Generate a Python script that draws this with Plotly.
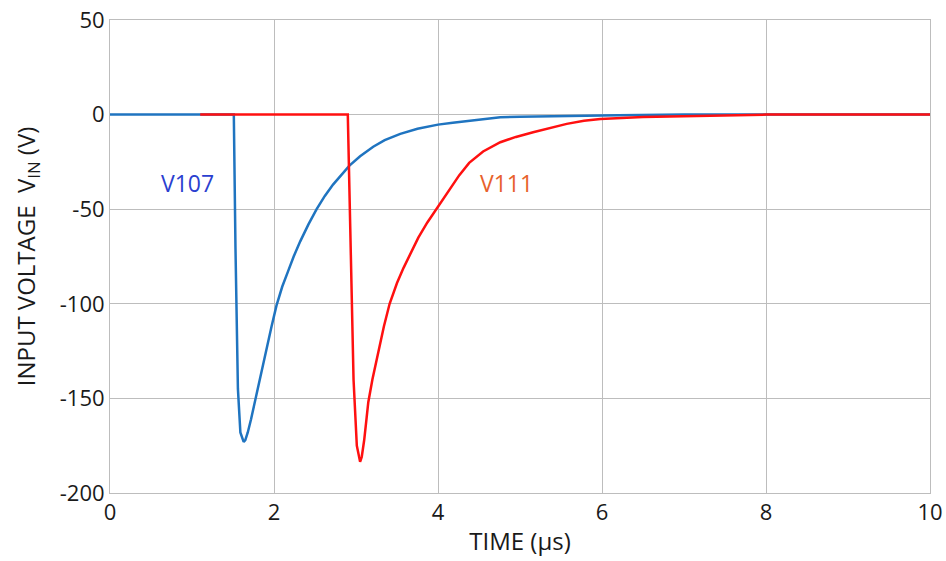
import plotly.graph_objects as go

# V107 trace (blue)
t_v107 = [0.0, 1.51, 1.53, 1.56, 1.59, 1.63, 1.65, 1.68, 1.72, 1.76, 1.80, 1.85, 1.91,
          1.97, 2.03, 2.10, 2.17, 2.24, 2.32, 2.42, 2.52, 2.62, 2.72, 2.82, 2.92, 3.05,
          3.21, 3.35, 3.54, 3.75, 4.00, 4.18, 4.35, 4.55, 4.76, 5.00, 5.25, 5.65, 6.20,
          7.00, 10.0]
v_v107 = [0.0, 0.0, -70, -145, -168, -173, -172, -168, -161, -153, -145, -135, -124,
          -112, -101, -91, -83, -75, -67, -58, -50, -43, -37, -32, -27, -22,
          -17, -13.5, -10.2, -7.5, -5.3, -4.3, -3.5, -2.4, -1.4, -1.1, -0.9, -0.7, -0.3,
          0.0, 0.0]

# V111 trace (red)
t_v111 = [1.10, 2.90, 2.93, 2.97, 3.01, 3.05, 3.07, 3.10, 3.13, 3.15, 3.20, 3.27, 3.34,
          3.41, 3.50, 3.58, 3.66, 3.76, 3.87, 3.98, 4.06, 4.15, 4.26, 4.38, 4.55, 4.76,
          4.95, 5.16, 5.36, 5.57, 5.78, 5.98, 6.50, 7.00, 7.50, 8.00, 10.0]
v_v111 = [0.0, 0.0, -60, -140, -175, -183.5, -181, -172, -160, -152, -140, -125, -112,
          -100, -89, -81, -73.5, -65, -57, -50, -45, -39, -32, -25.5, -19.5, -14.6,
          -11.8, -9.3, -7.0, -4.9, -3.3, -2.3, -1.3, -0.8, -0.3, 0.0, 0.0]

x_ticks = [0, 2, 4, 6, 8, 10]
y_ticks = [-200, -150, -100, -50, 0, 50]
y_tick_text = ["-200", "-150", "-100", "-50", "0", "50"]

fig = go.Figure()
fig.add_trace(go.Scatter(x=t_v107, y=v_v107, mode="lines",
                         line=dict(color="#1f74c0", width=2.5), name="V107"))
fig.add_trace(go.Scatter(x=t_v111, y=v_v111, mode="lines",
                         line=dict(color="#ff1010", width=2.5), name="V111"))

fig.add_annotation(x=0.94, y=-36, text="V107", showarrow=False,
                   font=dict(size=23, color="#2b3fd0", family="Open Sans"))
fig.add_annotation(x=4.83, y=-36, text="V111", showarrow=False,
                   font=dict(size=23, color="#e8612c", family="Open Sans"))

fig.update_layout(
    width=946, height=561,
    margin=dict(l=110, r=16, t=20, b=68),
    paper_bgcolor="white", plot_bgcolor="white",
    showlegend=False,
    font=dict(family="Open Sans", size=22, color="#1a1a1a"),
)
fig.update_xaxes(range=[0, 10], tickvals=x_ticks, ticktext=[str(v) for v in x_ticks],
                 showgrid=True, gridcolor="#bdbdbd", gridwidth=1,
                 zeroline=False, showline=True, linecolor="#bdbdbd", linewidth=1,
                 mirror=True, ticks="", tickfont=dict(size=22), automargin=False,
                 title=dict(text="TIME (µs)", font=dict(size=24), standoff=7))
fig.update_yaxes(range=[-200, 50], tickvals=y_ticks, ticktext=y_tick_text,
                 showgrid=True, gridcolor="#bdbdbd", gridwidth=1,
                 zeroline=False, showline=True, linecolor="#bdbdbd", linewidth=1,
                 mirror=True, ticks="", tickfont=dict(size=22), automargin=False,
                 title=dict(text="INPUT VOLTAGE&nbsp; V<sub>IN</sub> (V)",
                            font=dict(size=24), standoff=17))

fig.write_html("out.html")
